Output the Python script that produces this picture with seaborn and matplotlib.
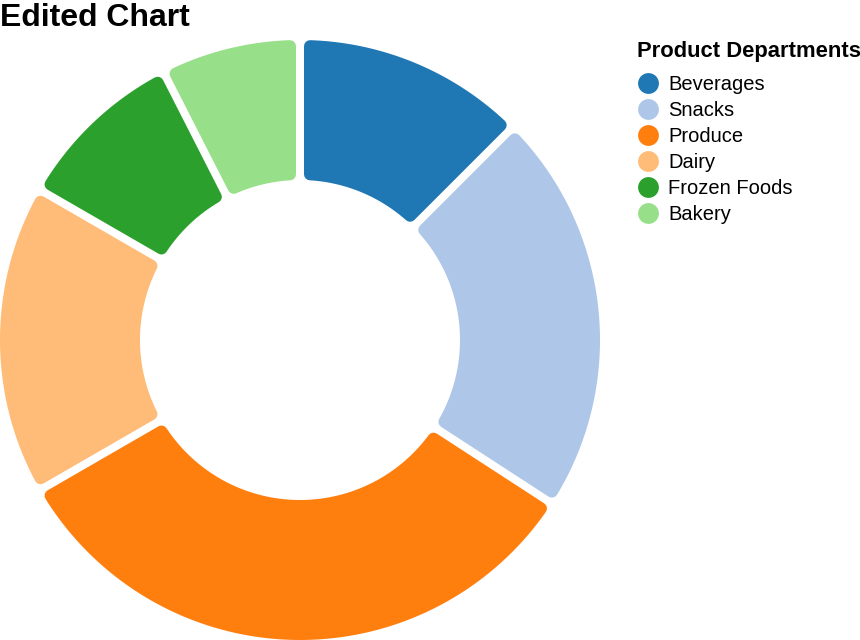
import numpy as np
import matplotlib
matplotlib.use("Agg")
import matplotlib.pyplot as plt
from matplotlib.patches import Polygon
from matplotlib.lines import Line2D
import seaborn as sns

# ---- data ---------------------------------------------
departments = ["Beverages", "Snacks", "Produce", "Dairy", "Frozen Foods", "Bakery"]
sales = [150, 260, 390, 200, 110, 90]
chart_title = "Edited Chart"
legend_title = "Product Departments"

sns.set_theme(style="white")
plt.rcParams["font.family"] = ["Liberation Sans", "DejaVu Sans"]
plt.rcParams["text.color"] = "black"
colors = sns.color_palette("tab20")[:6]

W, H, DPI = 860, 640, 100
fig = plt.figure(figsize=(W / DPI, H / DPI), dpi=DPI)

# donut axes: 600x600 px box, centre at (300, 340) px
ax = fig.add_axes([0, 0, 600 / W, 600 / H])
wedges, _ = ax.pie(sales, colors=colors, startangle=90, counterclock=False,
                   radius=1.0, wedgeprops=dict(width=140 / 300, linewidth=0))
ax.set_xlim(-1, 1)
ax.set_ylim(-1, 1)
ax.set_aspect("equal")
ax.axis("off")

# rounded corners + constant gaps: inset each wedge, then stroke it
px = 1 / 300.0
rc = 6 * px          # corner radius
gap = 8 * px         # white gap between slices
d = gap / 2 + rc
for w in wedges:
    t1, t2 = np.radians(w.theta1), np.radians(w.theta2)
    ro = w.r - rc
    ri = w.r - w.width + rc
    ao, ai = np.arcsin(d / ro), np.arcsin(d / ri)
    outer = np.linspace(t1 + ao, t2 - ao, 80)
    inner = np.linspace(t2 - ai, t1 + ai, 80)
    pts = np.concatenate([
        np.column_stack([ro * np.cos(outer), ro * np.sin(outer)]),
        np.column_stack([ri * np.cos(inner), ri * np.sin(inner)]),
    ])
    fc = w.get_facecolor()
    ax.add_patch(Polygon(pts, closed=True, facecolor=fc, edgecolor=fc,
                         linewidth=2 * 6 * 72 / DPI, joinstyle="round",
                         clip_on=False))
    w.set_visible(False)

fig.text(0.0, 1 - 26.5 / H, chart_title, fontsize=23, fontweight="bold",
         ha="left", va="baseline", color="black")

# legend title drawn on its own so the spacing to the rows can be set
fig.text(637 / W, 1 - 57.3 / H, legend_title, fontsize=15.8,
         fontweight="bold", ha="left", va="baseline", color="black")

handles = [Line2D([], [], linestyle="none", marker="o", markersize=15,
                  markerfacecolor=c, markeredgewidth=0) for c in colors]
leg = fig.legend(handles, departments, loc="upper left",
                 bbox_to_anchor=(637 / W, 1 - 75 / H), frameon=False,
                 fontsize=14.5, borderpad=0, borderaxespad=0,
                 handlelength=1.1, handletextpad=0.45, labelspacing=0.35)
for t in leg.get_texts():
    t.set_color("black")

fig.savefig("out.png", dpi=DPI)
